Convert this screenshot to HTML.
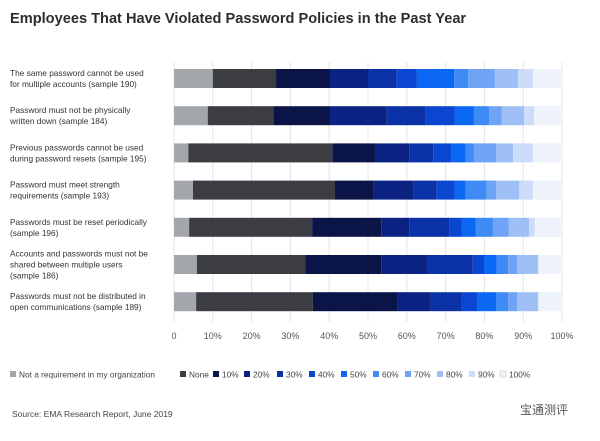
<!DOCTYPE html>
<html><head><meta charset="utf-8"><style>
body{margin:0;width:600px;height:436px;background:#fff;overflow:hidden;font-family:"Liberation Sans","Noto Sans CJK SC",sans-serif}
</style></head><body>
<svg id="c" width="600" height="436" xmlns="http://www.w3.org/2000/svg">
<text x="10" y="23" font-size="14.6" font-weight="bold" fill="#2b2d31">Employees That Have Violated Password Policies in the Past Year</text>
<g id="grid"></g><g id="bars"></g><g id="labels"></g><g id="ticks"></g><g id="legend"></g>
<text x="12" y="417" font-size="8.5" fill="#444">Source: EMA Research Report, June 2019</text>
<text x="520" y="414" font-size="12" fill="#555">宝通测评</text>
</svg>
<script>
const categories=[["The same password cannot be used","for multiple accounts (sample 190)"],["Password must not be physically","written down (sample 184)"],["Previous passwords cannot be used","during password resets (sample 195)"],["Password must meet strength","requirements (sample 193)"],["Passwords must be reset periodically","(sample 196)"],["Accounts and passwords must not be","shared between multiple users","(sample 186)"],["Passwords must not be distributed in","open communications (sample 189)"]];
const seriesNames=["Not a requirement in my organization","None","10%","20%","30%","40%","50%","60%","70%","80%","90%","100%"];
const row1=[10,16.3,13.9,9.8,7.4,5.2,9.6,3.6,6.9,6,3.8,7.5];
const row2=[8.7,16.9,14.6,14.6,9.9,7.7,4.9,3.9,3.3,5.7,2.6,7.2];
const row3=[3.7,37.1,11,8.8,6.2,4.6,3.8,2.1,5.7,4.4,5.1,7.5];
const row4=[4.9,36.6,10,10.2,6,4.7,2.8,5.4,2.4,6,3.5,7.5];
const row5=[3.9,31.7,17.8,7.2,10.3,3.3,3.6,4.4,4.1,5.2,1.5,7];
const row6=[5.9,27.9,19.6,11.8,11.8,2.9,3.3,2.9,2.3,5.4,0.2,6];
const row7=[5.7,30.1,21.9,8.5,8,3.9,4.9,3.1,2.3,5.4,0.2,6];
const tickLabels=["0","10%","20%","30%","40%","50%","60%","70%","80%","90%","100%"];
const tickValues=[0,10,20,30,40,50,60,70,80,90,100];
const rows=[row1,row2,row3,row4,row5,row6,row7];
const colors=["#a3a6ab","#3b3d42","#0b1447","#0b2283","#0a31a6","#0a46d0","#0a68f5","#3e8bf5","#6ea3f5","#9fc0f7","#cdddf9","#edf2fb"];
const NS="http://www.w3.org/2000/svg";
const x=v=>174+v*3.88;
const y=i=>69+i*37.2;
const BH=19;
function mk(t,a,p){const e=document.createElementNS(NS,t);for(const k in a)e.setAttribute(k,a[k]);p.appendChild(e);return e;}
const G=document.getElementById('grid'),B=document.getElementById('bars'),L=document.getElementById('labels'),T=document.getElementById('ticks'),LG=document.getElementById('legend');
tickValues.forEach((v,i)=>{
 const l=mk('line',{x1:x(v),x2:x(v),y1:62,y2:322,stroke:'#e4e4e8','stroke-width':1},G);
 
 
 const t=mk('text',{x:x(v),y:339,'font-size':9,fill:'#555','text-anchor':'middle'},T);
 t.textContent=tickLabels[i];
 
 
});
rows.forEach((r,i)=>{
 let acc=0;
 r.forEach((v,j)=>{
  const rc=mk('rect',{x:x(acc),y:y(i),width:Math.max(0,x(acc+v)-x(acc)),height:BH,fill:colors[j]},B);
  
  
  acc+=v;
 });
 const lines=categories[i];
 const cy=y(i)+BH/2;
 lines.forEach((s,k)=>{
  const t=mk('text',{x:10,y:cy+3+(k-(lines.length-1)/2)*11,'font-size':8.3,fill:'#333'},L);
  t.textContent=s;
  
  
 });
});
const lx=[10,180,213,244,277,309,341,373,405,437,469,500];
seriesNames.forEach((n,j)=>{
 const g=mk('g',{},LG);
 
 
 mk('rect',{x:lx[j],y:371,width:6,height:6,fill:colors[j],stroke:j==11?'#ddd':'none'},g);
 const t=mk('text',{x:lx[j]+9,y:377.5,'font-size':8.3,fill:'#444'},g);
 t.textContent=n;
});
</script>
</body></html>
